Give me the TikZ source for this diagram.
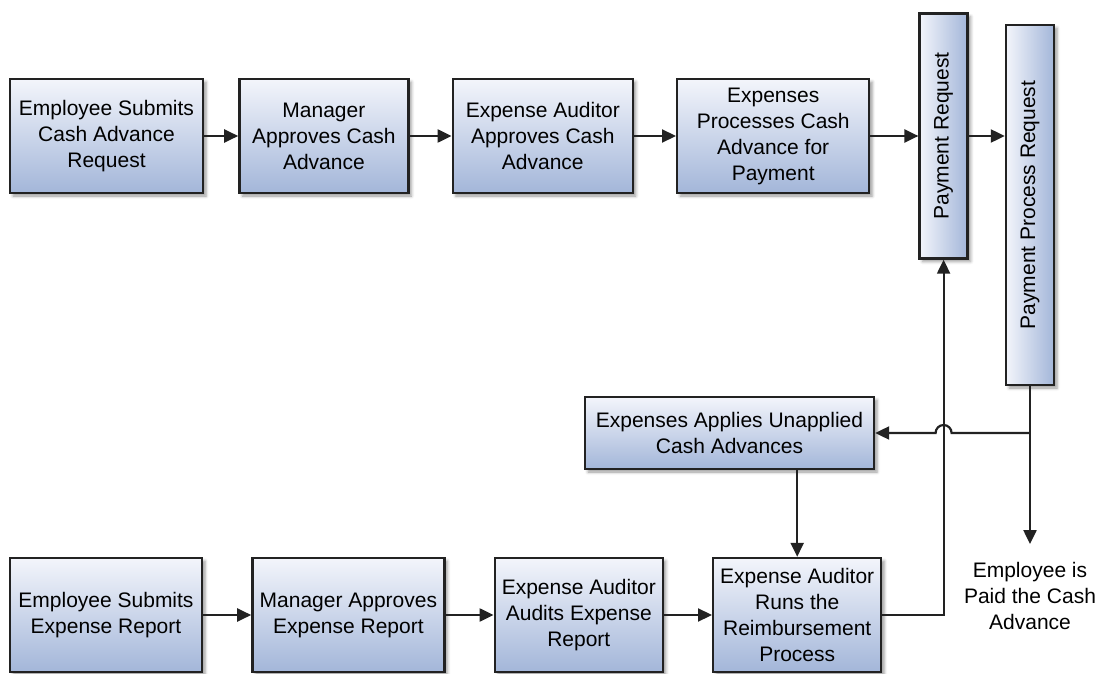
\documentclass[tikz,border=0pt]{standalone}
\usepackage{fontspec}
\setmainfont{Liberation Sans}
\usepackage{tikz}
\usetikzlibrary{calc,positioning,arrows.meta,shadows.blur}

\definecolor{boxtop}{HTML}{F3F5FB}
\definecolor{boxbot}{HTML}{A3B6D9}
\definecolor{lineclr}{HTML}{222222}

\begin{document}
\begin{tikzpicture}[x=1pt,y=-1pt,
        font=\fontsize{21}{26}\selectfont,
        stepbox/.style={draw=lineclr, line width=2.4pt, top color=boxtop, bottom color=boxbot,
            inner sep=0pt, align=center, minimum height=114pt,
            blur shadow={shadow xshift=3pt, shadow yshift=-3pt, shadow blur radius=3pt, shadow opacity=40}},
        tallbox/.style={stepbox, left color=boxtop, right color=boxbot, minimum width=48pt},
        arr/.style={-{Triangle[length=14pt,width=13pt]}, line width=2.2pt, draw=lineclr}]
    \useasboundingbox (0,0) rectangle (1104,674);

    % cash advance row
    \node[stepbox, minimum width=193pt] (cashreq) at (106.5,136) {Employee Submits\\Cash Advance\\Request};
    \node[stepbox, minimum width=169pt, right=34pt of cashreq] (mgrcash) {Manager\\Approves Cash\\Advance};
    \node[stepbox, minimum width=180pt, right=42pt of mgrcash] (audcash) {Expense Auditor\\Approves Cash\\Advance};
    \node[stepbox, minimum width=192pt, right=42pt of audcash] (proccash) {Expenses\\Processes Cash\\Advance for\\Payment};
    \node[tallbox, minimum height=245pt, right=48pt of proccash] (payreq) {\rotatebox{90}{Payment Request}};
    \node[tallbox, minimum height=360pt] (payproc) at (1030,205) {\rotatebox{90}{Payment Process Request}};

    % expense report row
    \node[stepbox, minimum width=192pt] (exprep) at (106,615) {Employee Submits\\Expense Report};
    \node[stepbox, minimum width=192pt, right=48pt of exprep] (mgrrep) {Manager Approves\\Expense Report};
    \node[stepbox, minimum width=168pt, right=48pt of mgrrep] (audrep) {Expense Auditor\\Audits Expense\\Report};
    \node[stepbox, minimum width=168pt, right=48pt of audrep] (reimb) {Expense Auditor\\Runs the\\Reimbursement\\Process};

    \node[stepbox, minimum width=289pt, minimum height=72pt] (apply) at (729.5,433) {Expenses Applies Unapplied\\Cash Advances};
    \node[align=center, inner xsep=2pt, inner ysep=18pt] (paid) at (1030,596) {Employee is\\Paid the Cash\\Advance};

    \coordinate (split) at (payproc.south |- apply.east);

    \draw[arr] (cashreq) -- (mgrcash);
    \draw[arr] (mgrcash) -- (audcash);
    \draw[arr] (audcash) -- (proccash);
    \draw[arr] (proccash) -- (payreq);
    \draw[arr] (payreq.east) -- (payreq.east -| payproc.west);

    \draw[arr] (exprep) -- (mgrrep);
    \draw[arr] (mgrrep) -- (audrep);
    \draw[arr] (audrep) -- (reimb);
    \draw[arr] (reimb.east) -| (payreq.south);

    \draw[arr] (payproc.south) -- (paid.north);
    \draw[arr] (split) -- ($(split -| payreq.south)+(8,0)$) arc[start angle=0, end angle=180, radius=8pt] -- (apply.east);
    \draw[arr] (apply.south -| reimb.north) -- (reimb.north);
\end{tikzpicture}
\end{document}
